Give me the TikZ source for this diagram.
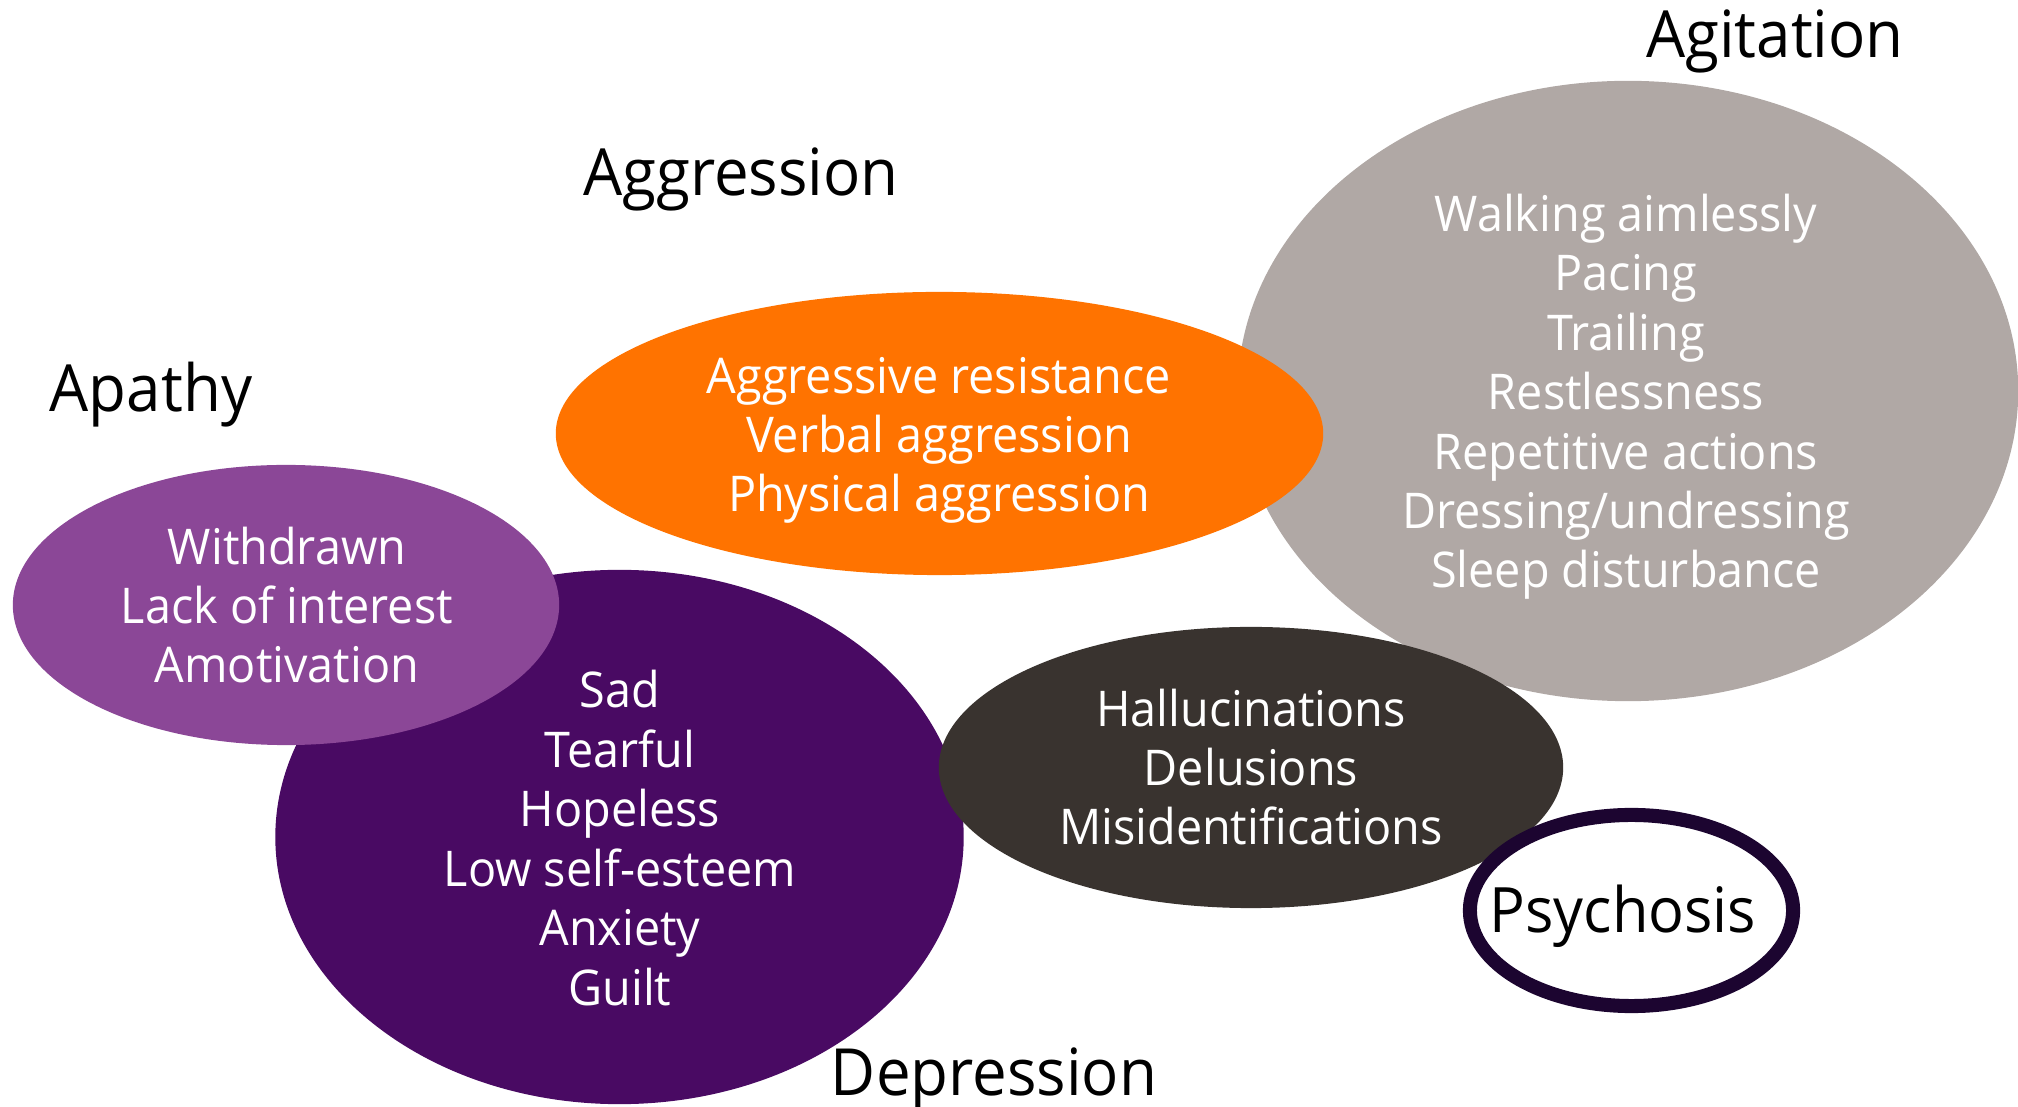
\documentclass[tikz,border=0pt]{standalone}
\usepackage{fontspec}
\setmainfont[FakeStretch=0.95]{Open Sans}
\usetikzlibrary{shapes.geometric}
\definecolor{cAgit}{RGB}{176,168,165}
\definecolor{cAggr}{RGB}{255,115,0}
\definecolor{cApat}{RGB}{139,71,151}
\definecolor{cDepr}{RGB}{73,10,99}
\definecolor{cPsyc}{RGB}{57,51,47}
\definecolor{cRing}{RGB}{28,5,48}
\tikzset{
  blob/.style={ellipse, inner sep=0pt, draw=none},
  body/.style={text=white, align=center, anchor=base, inner sep=0pt,
    font=\fontsize{14}{16.9}\selectfont},
  title/.style={text=black, anchor=base, inner sep=0pt,
    font=\fontsize{18.5}{22}\selectfont},
}
\begin{document}
\begin{tikzpicture}[x=0.01cm,y=-0.01cm]
\useasboundingbox (0,0) rectangle (2018,1107);
% ellipses
\node[blob, fill=cAgit, minimum width=7.80cm, minimum height=6.20cm] (agit) at (1628,391) {};
\node[blob, fill=cAggr, minimum width=7.67cm, minimum height=2.83cm] (aggr) at (939.5,433.5) {};
\node[blob, fill=cDepr, minimum width=6.88cm, minimum height=5.34cm] (depr) at (619.5,837) {};
\node[blob, fill=cApat, minimum width=5.46cm, minimum height=2.80cm] (apat) at (286,605) {};
\node[blob, fill=cPsyc, minimum width=6.24cm, minimum height=2.81cm] (psyc) at (1251,767.5) {};
\node[blob, fill=white, draw=cRing, line width=4pt, minimum width=3.23cm, minimum height=1.91cm] (ring) at (1631.5,910.5) {};
% body texts (anchor = baseline of last line)
\node[body] (tagit) at (1626,588) {Walking aimlessly\\Pacing\\Trailing\\Restlessness\\Repetitive actions\\Dressing/undressing\\Sleep disturbance};
\node[body] (taggr) at (939,512) {Aggressive resistance\\Verbal aggression\\Physical aggression};
\node[body] (tapat) at (287,683) {Withdrawn\\Lack of interest\\Amotivation};
\node[body] (tdepr) at (620,1005) {Sad\\Tearful\\Hopeless\\Low self-esteem\\Anxiety\\Guilt};
\node[body] (tpsyc) at (1251,845) {Hallucinations\\Delusions\\Misidentifications};
% titles
\node[title] (lagit) at (1775,57.5) {Agitation};
\node[title] (laggr) at (741,196) {Aggression};
\node[title] (lapat) at (151,412) {Apathy};
\node[title] (ldepr) at (994,1095) {Depression};
\node[title, font=\fontsize{17.8}{21}\selectfont] (lpsyc) at (1623,933) {Psychosis};
\end{tikzpicture}
\end{document}
